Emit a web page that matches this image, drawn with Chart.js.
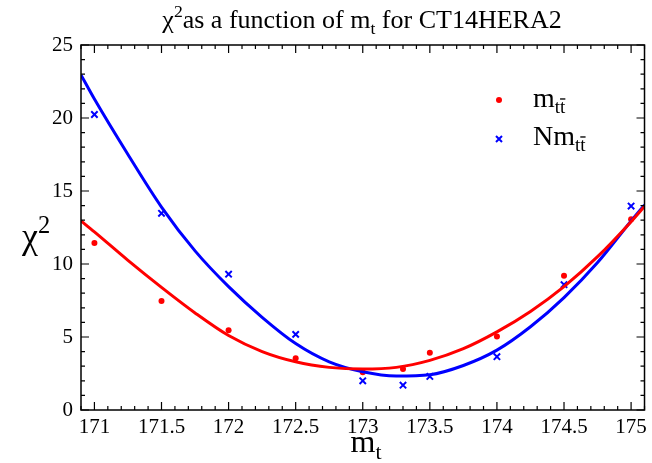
<!DOCTYPE html>
<html>
<head>
<meta charset="utf-8">
<script src="https://cdn.jsdelivr.net/npm/chart.js@4.4.1/dist/chart.umd.min.js"></script>
<style>
  html, body { margin: 0; padding: 0; background: #fff; }
</style>
</head>
<body>
<canvas id="myChart" width="652" height="463"></canvas>
<script>
// measured points
const massPoints = [171, 171.5, 172, 172.5, 173, 173.3, 173.5, 174, 174.5, 175];
const chi2Mtt = [11.44, 7.47, 5.46, 3.55, 2.58, 2.8, 3.92, 5.03, 9.2, 13.06];
const chi2NMtt = [20.24, 13.47, 9.3, 5.18, 2.0, 1.7, 2.3, 3.65, 8.58, 13.97];

// fit curves
const fitMass = [170.9, 171, 171.25, 171.5, 171.75, 172, 172.25, 172.5, 172.75, 173, 173.25, 173.5, 173.75, 174, 174.25, 174.5, 174.75, 175, 175.1];
const fitMtt = [12.95, 12.2, 10.25, 8.4, 6.65, 5.1, 4.0, 3.3, 2.92, 2.8, 2.92, 3.4, 4.2, 5.35, 6.75, 8.45, 10.5, 12.9, 13.95];
const fitNMtt = [22.95, 21.3, 17.5, 13.9, 10.9, 8.45, 6.35, 4.55, 3.3, 2.62, 2.33, 2.42, 3.05, 4.1, 5.7, 7.7, 10.1, 12.95, 14.05];

const xTicks = [171, 171.5, 172, 172.5, 173, 173.5, 174, 174.5, 175];
const yTicks = [0, 5, 10, 15, 20, 25];

const serif = "'Liberation Serif', 'Times New Roman', serif";

function toXY(xs, ys) {
  return xs.map((x, i) => ({ x: x, y: ys[i] }));
}

// draw text with sub/superscripts; parts = [[text, mode], ...]
function drawRich(ctx, parts, x, y, size, align) {
  const small = size * 0.68;
  let total = 0;
  const widths = parts.map(p => {
    ctx.font = (p[1] === 'n' ? size : small) + 'px ' + serif;
    const w = ctx.measureText(p[0]).width;
    total += w;
    return w;
  });
  let cx = align === 'center' ? x - total / 2 : x;
  parts.forEach((p, i) => {
    ctx.font = (p[1] === 'n' ? size : small) + 'px ' + serif;
    let dy = 0;
    if (p[1] === 'sup') dy = -size * 0.42;
    if (p[1] === 'sub') dy = size * 0.22;
    ctx.fillText(p[0], cx, y + dy);
    if (p[2] === 'bar') {
      // macron over the last letter
      const lw = ctx.measureText('t').width;
      ctx.fillRect(cx + widths[i] - lw, y + dy - small * 0.78, lw, Math.max(1, small * 0.07));
    }
    cx += widths[i];
  });
}

const framePlugin = {
  id: 'frame',
  afterDraw(chart) {
    const ctx = chart.ctx;
    const a = chart.chartArea;
    const xs = chart.scales.x, ys = chart.scales.y;
    ctx.save();
    ctx.strokeStyle = '#000';
    ctx.lineWidth = 1.5;
    ctx.strokeRect(a.left, a.top, a.right - a.left, a.bottom - a.top);

    ctx.lineWidth = 1.2;
    ctx.beginPath();
    for (let v = 170.9; v <= 175.101; v += 0.1) {
      const r = Math.round(v * 10) / 10;
      const major = Math.abs(r * 2 - Math.round(r * 2)) < 1e-6;
      const len = major ? 8 : 4;
      const px = xs.getPixelForValue(r);
      ctx.moveTo(px, a.bottom); ctx.lineTo(px, a.bottom - len);
      ctx.moveTo(px, a.top); ctx.lineTo(px, a.top + len);
    }
    for (let v = 0; v <= 25; v += 1) {
      const len = v % 5 === 0 ? 8 : 4;
      const py = ys.getPixelForValue(v);
      ctx.moveTo(a.left, py); ctx.lineTo(a.left + len, py);
      ctx.moveTo(a.right, py); ctx.lineTo(a.right - len, py);
    }
    ctx.stroke();

    ctx.fillStyle = '#000';
    ctx.textBaseline = 'alphabetic';
    ctx.textAlign = 'left';
    drawRich(ctx, [['χ', 'n'], ['2', 'sup'], ['as a function of m', 'n'], ['t', 'sub'], [' for CT14HERA2', 'n']], 362, 28, 26, 'center');
    drawRich(ctx, [['m', 'n'], ['t', 'sub']], 366, 452, 32, 'center');
    drawRich(ctx, [['χ', 'n'], ['2', 'sup']], 22, 248, 36, 'left');

    // legend
    ctx.fillStyle = '#ff0000';
    ctx.beginPath();
    ctx.arc(499, 100, 3, 0, Math.PI * 2);
    ctx.fill();
    ctx.strokeStyle = '#0000ff';
    ctx.lineWidth = 2;
    ctx.beginPath();
    ctx.moveTo(496, 136); ctx.lineTo(502, 142);
    ctx.moveTo(502, 136); ctx.lineTo(496, 142);
    ctx.stroke();
    ctx.fillStyle = '#000';
    drawRich(ctx, [['m', 'n'], ['tt', 'sub', 'bar']], 533, 107, 28, 'left');
    drawRich(ctx, [['Nm', 'n'], ['tt', 'sub', 'bar']], 533, 145, 28, 'left');
    ctx.restore();
  }
};

const ctx = document.getElementById('myChart').getContext('2d');
const myChart = new Chart(ctx, {
  type: 'scatter',
  data: {
    datasets: [
      {
        label: 'fit mtt',
        data: toXY(fitMass, fitMtt),
        showLine: true,
        borderColor: '#ff0000',
        borderWidth: 3,
        pointRadius: 0,
        cubicInterpolationMode: 'monotone'
      },
      {
        label: 'fit Nmtt',
        data: toXY(fitMass, fitNMtt),
        showLine: true,
        borderColor: '#0000ff',
        borderWidth: 3,
        pointRadius: 0,
        cubicInterpolationMode: 'monotone'
      },
      {
        label: 'mtt',
        data: toXY(massPoints, chi2Mtt),
        pointStyle: 'circle',
        pointRadius: 3,
        backgroundColor: '#ff0000',
        borderColor: '#ff0000',
        borderWidth: 0
      },
      {
        label: 'Nmtt',
        data: toXY(massPoints, chi2NMtt),
        pointStyle: 'crossRot',
        pointRadius: 4.5,
        borderColor: '#0000ff',
        borderWidth: 2
      }
    ]
  },
  options: {
    responsive: false,
    animation: false,
    layout: { padding: { left: 0, right: 3, top: 45, bottom: 0 } },
    plugins: {
      legend: { display: false },
      tooltip: { enabled: false }
    },
    scales: {
      x: {
        type: 'linear',
        min: 170.9,
        max: 175.1,
        grid: { display: false, drawTicks: false },
        border: { display: false },
        afterBuildTicks: s => { s.ticks = xTicks.map(v => ({ value: v })); },
        afterFit: s => { s.height = 53; },
        ticks: {
          padding: 5,
          color: '#000',
          maxRotation: 0,
          autoSkip: false,
          callback: v => String(v),
          font: { family: serif, size: 21 }
        }
      },
      y: {
        min: 0,
        max: 25,
        grid: { display: false, drawTicks: false },
        border: { display: false },
        afterBuildTicks: s => { s.ticks = yTicks.map(v => ({ value: v })); },
        afterFit: s => { s.width = 81; },
        ticks: {
          padding: 8,
          color: '#000',
          callback: v => String(v),
          font: { family: serif, size: 21 }
        }
      }
    }
  },
  plugins: [framePlugin]
});
</script>
</body>
</html>
